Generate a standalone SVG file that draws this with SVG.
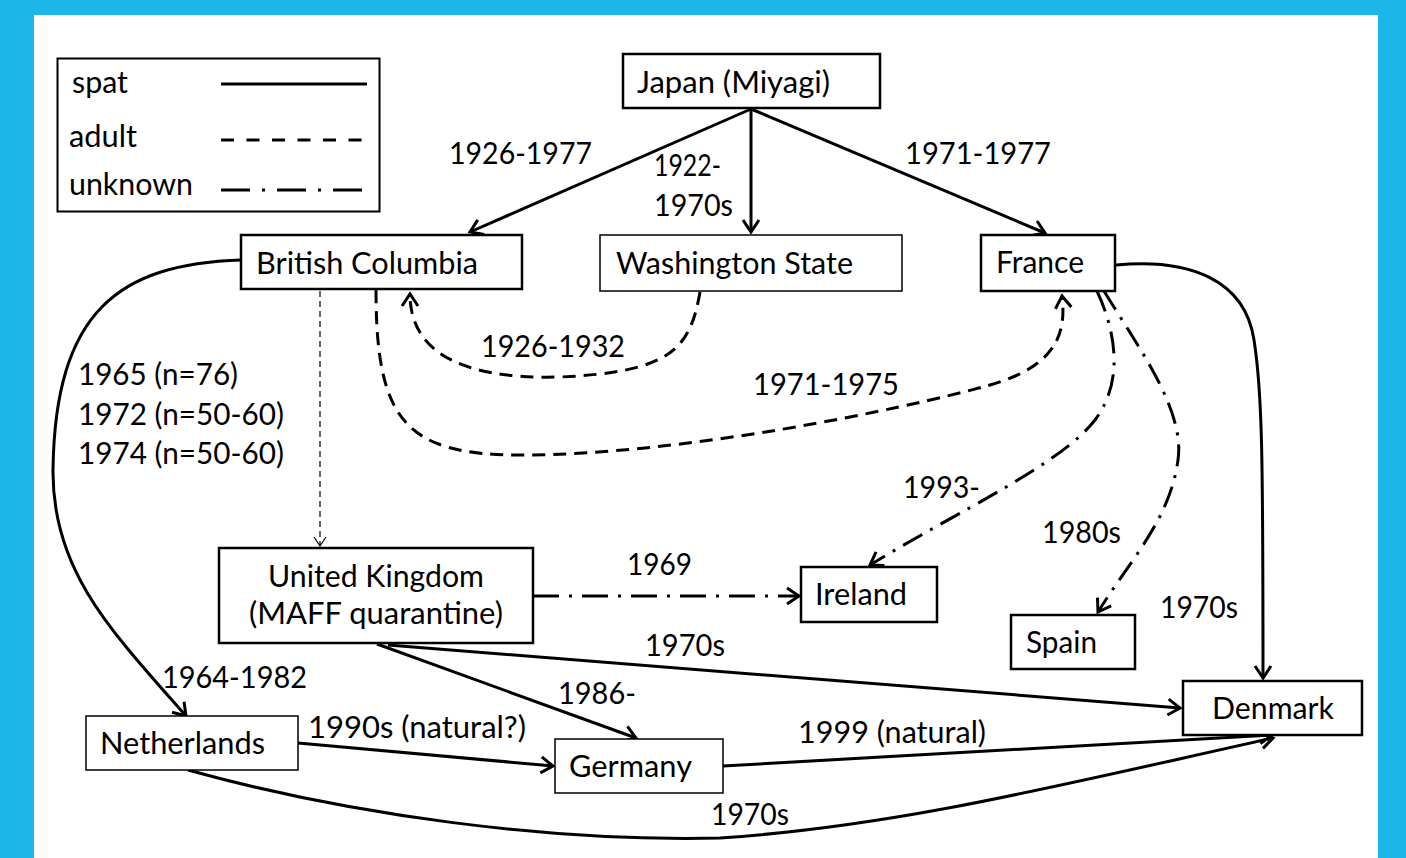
<svg xmlns="http://www.w3.org/2000/svg" width="1406" height="858" viewBox="0 0 1406 858">
<defs>
<style>
text{font-family:Lato,"Open Sans","Liberation Sans",sans-serif;font-size:30px;fill:#000}
.box{fill:#fff;stroke:#000;stroke-width:2.5}
.thin{fill:#fff;stroke:#000;stroke-width:1.5}
.c{fill:none;stroke:#000;stroke-width:3}
.dash{stroke-dasharray:13 8}
.dd{stroke-dasharray:22 9 3 9}
.fine{fill:none;stroke:#000;stroke-width:1.2;stroke-dasharray:6 4}
</style>
<marker id="ah" markerUnits="userSpaceOnUse" orient="auto" refX="0" refY="0" markerWidth="20" markerHeight="20" overflow="visible">
<path d="M-12,-8 L0,0 L-12,8" fill="none" stroke="#000" stroke-width="3" stroke-dasharray="none"/>
</marker>
<marker id="ahs" markerUnits="userSpaceOnUse" orient="auto" refX="0" refY="0" markerWidth="12" markerHeight="12" overflow="visible">
<path d="M-9,-6 L0,0 L-9,6" fill="none" stroke="#000" stroke-width="1.2" stroke-dasharray="none"/>
</marker>
</defs>
<rect x="0" y="0" width="1406" height="858" fill="#1db6e9"/>
<rect x="34" y="15" width="1344" height="843" fill="#fff"/>

<g id="legend">
<rect x="57.5" y="58.5" width="322" height="153" fill="#fff" stroke="#000" stroke-width="2"/>
<text x="72" y="93" textLength="56" lengthAdjust="spacingAndGlyphs">spat</text>
<text x="69" y="147" textLength="68" lengthAdjust="spacingAndGlyphs">adult</text>
<text x="69" y="195" textLength="124" lengthAdjust="spacingAndGlyphs">unknown</text>
<line x1="221" y1="84" x2="367" y2="84" class="c"/>
<line x1="221" y1="140" x2="367" y2="140" class="c" stroke-dasharray="13 12.5"/>
<line x1="221" y1="190" x2="363" y2="190" class="c" stroke-dasharray="29 12 3 12"/>
</g>

<g id="connectors">
<line x1="751" y1="109" x2="470" y2="232" class="c" marker-end="url(#ah)"/>
<line x1="751" y1="109" x2="751" y2="232" class="c" marker-end="url(#ah)"/>
<line x1="751" y1="109" x2="1045" y2="233" class="c" marker-end="url(#ah)"/>
<path d="M700,292 C690,350 670,372 560,377 C450,380 410,345 410,294" class="c dash" marker-end="url(#ah)"/>
<path d="M376,290 C376,420 405,455 520,455 C680,455 900,410 990,385 C1060,365 1066,330 1062,296" class="c dash" marker-end="url(#ah)"/>
<line x1="320" y1="291" x2="320" y2="546" class="fine" marker-end="url(#ahs)"/>
<path d="M241,260 C120,264 55,310 53,470 C52,570 110,630 186,716" class="c" marker-end="url(#ah)"/>
<path d="M1097,291 C1115,330 1125,380 1095,420 C1060,465 960,510 870,565" class="c dd" marker-end="url(#ah)"/>
<path d="M1104,291 C1140,350 1185,410 1178,460 C1170,520 1130,560 1098,612" class="c dd" marker-end="url(#ah)"/>
<path d="M1116,265 C1190,258 1245,280 1254,340 C1262,390 1263,450 1263,678" class="c" marker-end="url(#ah)"/>
<line x1="533" y1="596" x2="799" y2="596" class="c" stroke-dasharray="26 10 3 10" marker-end="url(#ah)"/>
<line x1="388" y1="645" x2="1180" y2="708" class="c" marker-end="url(#ah)"/>
<line x1="377" y1="644" x2="636" y2="738" class="c" marker-end="url(#ah)"/>
<line x1="298" y1="743" x2="553" y2="766" class="c" marker-end="url(#ah)"/>
<line x1="723" y1="766" x2="1272" y2="735" class="c" marker-end="url(#ah)"/>
<path d="M188,770 C350,815 550,842 720,838 C900,826 1060,785 1273,738" class="c" marker-end="url(#ah)"/>
</g>

<g id="labels">
<text x="449" y="164" textLength="143" lengthAdjust="spacingAndGlyphs">1926-1977</text>
<text x="654" y="176" textLength="67" lengthAdjust="spacingAndGlyphs">1922-</text>
<text x="654" y="216" textLength="79" lengthAdjust="spacingAndGlyphs">1970s</text>
<text x="905" y="164" textLength="146" lengthAdjust="spacingAndGlyphs">1971-1977</text>
<text x="481" y="357" textLength="144" lengthAdjust="spacingAndGlyphs">1926-1932</text>
<text x="753" y="395" textLength="146" lengthAdjust="spacingAndGlyphs">1971-1975</text>
<text x="78" y="385" textLength="160" lengthAdjust="spacingAndGlyphs">1965 (n=76)</text>
<text x="78" y="425" textLength="206" lengthAdjust="spacingAndGlyphs">1972 (n=50-60)</text>
<text x="78" y="464" textLength="206" lengthAdjust="spacingAndGlyphs">1974 (n=50-60)</text>
<text x="903" y="498" textLength="77" lengthAdjust="spacingAndGlyphs">1993-</text>
<text x="1042" y="543" textLength="79" lengthAdjust="spacingAndGlyphs">1980s</text>
<text x="627" y="575" textLength="65" lengthAdjust="spacingAndGlyphs">1969</text>
<text x="1160" y="618" textLength="78" lengthAdjust="spacingAndGlyphs">1970s</text>
<text x="645" y="656" textLength="80" lengthAdjust="spacingAndGlyphs">1970s</text>
<text x="162" y="688" textLength="145" lengthAdjust="spacingAndGlyphs">1964-1982</text>
<text x="558" y="704" textLength="78" lengthAdjust="spacingAndGlyphs">1986-</text>
<text x="308" y="738" textLength="218" lengthAdjust="spacingAndGlyphs">1990s (natural?)</text>
<text x="798" y="743" textLength="188" lengthAdjust="spacingAndGlyphs">1999 (natural)</text>
<text x="711" y="825" textLength="78" lengthAdjust="spacingAndGlyphs">1970s</text>
</g>

<g id="japan"><rect x="623" y="54" width="257" height="54" class="box"/><text x="637" y="93" textLength="193" lengthAdjust="spacingAndGlyphs">Japan (Miyagi)</text></g>
<g id="bc"><rect x="241" y="235" width="281" height="54" class="box"/><text x="256" y="274" textLength="222" lengthAdjust="spacingAndGlyphs">British Columbia</text></g>
<g id="washington"><rect x="600" y="235" width="302" height="56" class="thin"/><text x="616" y="274" textLength="237" lengthAdjust="spacingAndGlyphs">Washington State</text></g>
<g id="france"><rect x="981" y="235" width="134" height="56" class="box"/><text x="996" y="273" textLength="88" lengthAdjust="spacingAndGlyphs">France</text></g>
<g id="uk"><rect x="219" y="548" width="314" height="95" class="box"/><text x="268" y="587" textLength="216" lengthAdjust="spacingAndGlyphs">United Kingdom</text><text x="249" y="624" textLength="254" lengthAdjust="spacingAndGlyphs">(MAFF quarantine)</text></g>
<g id="ireland"><rect x="801" y="567" width="136" height="55" class="box"/><text x="815" y="605" textLength="92" lengthAdjust="spacingAndGlyphs">Ireland</text></g>
<g id="spain"><rect x="1011" y="615" width="124" height="54" class="box"/><text x="1026" y="653" textLength="71" lengthAdjust="spacingAndGlyphs">Spain</text></g>
<g id="denmark"><rect x="1183" y="681" width="179" height="54" class="box"/><text x="1212" y="719" textLength="122" lengthAdjust="spacingAndGlyphs">Denmark</text></g>
<g id="netherlands"><rect x="86" y="716" width="212" height="54" class="thin"/><text x="100" y="754" textLength="165" lengthAdjust="spacingAndGlyphs">Netherlands</text></g>
<g id="germany"><rect x="555" y="739" width="168" height="54" class="thin"/><text x="569" y="777" textLength="123" lengthAdjust="spacingAndGlyphs">Germany</text></g>
</svg>
